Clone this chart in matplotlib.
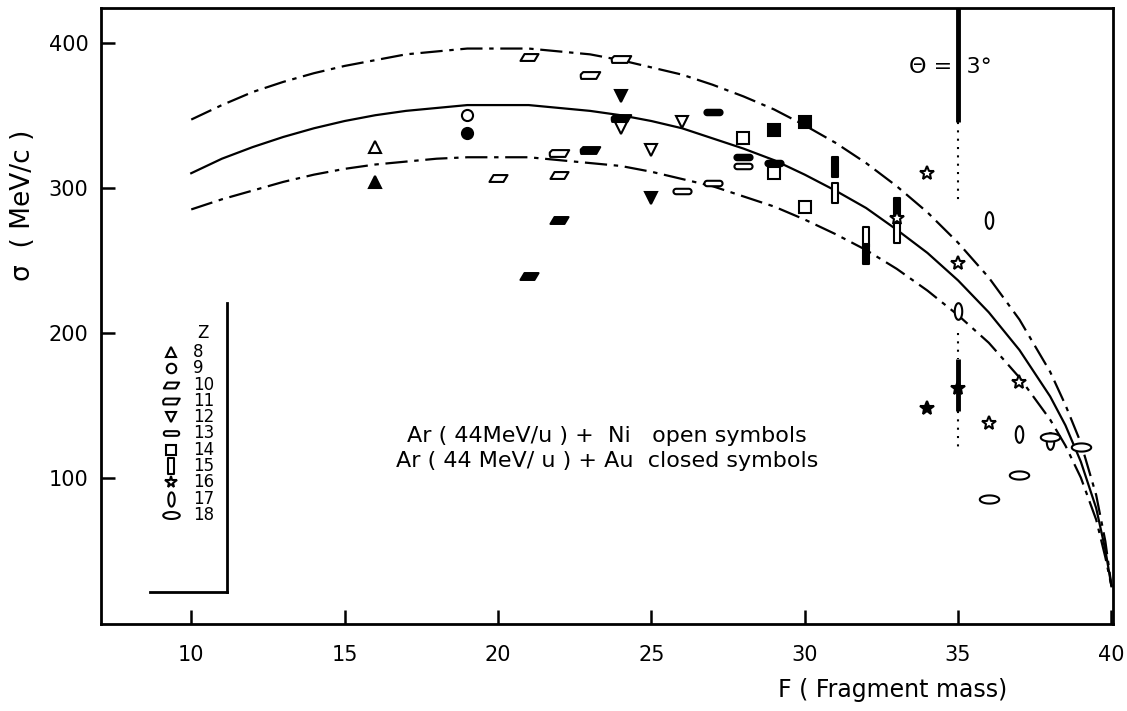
import numpy as np
import matplotlib.pyplot as plt
from matplotlib.path import Path

plt.rcParams['font.family'] = ['DejaVu Sans']

# Curves: mean and +/- band
curve_F = [10, 11, 12, 13, 14, 15, 16, 17, 18, 19, 20, 21, 22, 23, 24, 25, 26, 27,
           28, 29, 30, 31, 32, 33, 34, 35, 36, 37, 38, 38.5, 39, 39.5, 39.8, 40]
curve_mid = [310, 320, 328, 335, 341, 346, 350, 353, 355, 357, 357, 357, 355, 353, 350,
             346, 341, 334, 327, 319, 309, 298, 286, 271, 255, 236, 214, 188, 156, 136,
             111, 79, 50, 25]
curve_up = [347, 357, 366, 373, 379, 384, 388, 392, 394, 396, 396, 396, 394, 392, 388,
            383, 378, 371, 363, 354, 343, 331, 317, 301, 283, 262, 238, 209, 173, 150,
            124, 88, 56, 25]
curve_lo = [285, 292, 298, 304, 309, 313, 316, 318, 320, 321, 321, 321, 319, 317, 315,
            311, 306, 301, 294, 287, 278, 268, 257, 244, 229, 212, 193, 169, 140, 122,
            100, 71, 45, 25]

# Data points per Z: (F, sigma); open = Ar+Ni, closed = Ar+Au
ni_pts = {
    8: [(16, 328)],
    9: [(19, 350)],
    10: [(20, 307), (21, 390), (22, 309)],
    11: [(22, 324), (23, 378), (24, 389)],
    12: [(24, 341), (25, 326), (26, 345)],
    13: [(26, 298), (27, 303), (28, 315)],
    14: [(28, 334), (29, 310), (30, 287)],
    15: [(31, 296), (32, 266), (33, 269)],
    16: [(33, 279), (34, 310), (35, 248), (36, 138), (37, 166)],
    17: [(35, 215), (36, 278), (37, 130), (38, 125)],
    18: [(36, 85), (37, 102), (38, 128), (39, 121)],
}
au_pts = {
    8: [(16, 304)],
    9: [(19, 338)],
    10: [(21, 239), (22, 278)],
    11: [(23, 326), (24, 348)],
    12: [(24, 363), (25, 293)],
    13: [(27, 352), (28, 321), (29, 317)],
    14: [(29, 340), (30, 345)],
    15: [(31, 314), (32, 254), (33, 286)],
    16: [(34, 148), (35, 162)],
}

z_list = [8, 9, 10, 11, 12, 13, 14, 15, 16, 17, 18]

# scanner streak near F = 35
streak_F = 35.0
streak_heavy = [(424, 345), (182, 146)]
streak_light = [(345, 290), (200, 182), (146, 120)]


def ellipse(ax_x, ax_y, n=40):
    t = np.linspace(0, 2 * np.pi, n)
    return Path(np.column_stack([ax_x * np.cos(t), ax_y * np.sin(t)]), closed=True)


def capsule(w, h, n=12):
    t1 = np.linspace(np.pi / 2, 3 * np.pi / 2, n)
    t2 = np.linspace(-np.pi / 2, np.pi / 2, n)
    left = np.column_stack([-w + h * np.cos(t1), h * np.sin(t1)])
    right = np.column_stack([w + h * np.cos(t2), h * np.sin(t2)])
    v = np.vstack([left, right, left[:1]])
    return Path(v, closed=True)


parallelogram = Path([(-1, -0.38), (0.55, -0.38), (1, 0.38), (-0.55, 0.38), (-1, -0.38)],
                     closed=True)
para_round = Path([(-0.95, -0.35), (0.6, -0.35), (1, 0.35), (-0.75, 0.35), (-1, 0.1),
                   (-1, -0.15), (-0.95, -0.35)], closed=True)
tall_rect = Path([(-0.35, -1), (0.35, -1), (0.35, 1), (-0.35, 1), (-0.35, -1)], closed=True)

styles = {
    8: ('^', 9),
    9: ('o', 8),
    10: (parallelogram, 13),
    11: (para_round, 14),
    12: ('v', 9),
    13: (capsule(0.7, 0.3), 13),
    14: ('s', 8),
    15: (tall_rect, 14),
    16: ('*', 10),
    17: (ellipse(0.45, 1.0), 12),
    18: (ellipse(1.0, 0.42), 14),
}

fig = plt.figure(figsize=(11.27, 7.11), dpi=100)
ax = fig.add_axes([0.0894, 0.1224, 0.8982, 0.8664])

dash = (10, 3, 2, 3)
ax.plot(curve_F, curve_up, color='black', lw=1.6, dashes=dash)
ax.plot(curve_F, curve_lo, color='black', lw=1.6, dashes=dash)
ax.plot(curve_F, curve_mid, color='black', lw=1.6)

for z in z_list:
    m, ms = styles[z]
    if z in ni_pts:
        f, s = zip(*ni_pts[z])
        ax.plot(f, s, ls='none', marker=m, ms=ms, mfc='white', mec='black', mew=1.5)
    if z in au_pts:
        f, s = zip(*au_pts[z])
        ax.plot(f, s, ls='none', marker=m, ms=ms, mfc='black', mec='black', mew=1.5)

for a, b in streak_heavy:
    ax.plot([streak_F, streak_F], [a, b], color='black', lw=3.5, solid_capstyle='butt')
for a, b in streak_light:
    ax.plot([streak_F, streak_F], [a, b], color='black', lw=1.5, ls=(0, (1, 3)))

ax.set_xlim(7.05, 40.05)
ax.set_ylim(-1, 424)
ax.set_xticks([10, 15, 20, 25, 30, 35, 40])
ax.set_yticks([100, 200, 300, 400])
ax.tick_params(direction='in', length=10, width=1.8, labelsize=15)
ax.tick_params(axis='y', pad=9)
ax.tick_params(axis='x', pad=15)
for sp in ax.spines.values():
    sp.set_linewidth(2)

ax.set_ylabel('σ  ( MeV/c )', fontsize=19)
ax.yaxis.set_label_coords(-0.064, 0.68)
fig.text(0.792, 0.03, 'F ( Fragment mass)', fontsize=17, ha='center', va='center')

ax.text(33.4, 383, 'Θ =  3°', fontsize=16, va='center')
ax.text(0.5, 0.305, 'Ar ( 44MeV/u ) +  Ni   open symbols', transform=ax.transAxes,
        fontsize=16, ha='center', va='center')
ax.text(0.5, 0.264, 'Ar ( 44 MeV/ u ) + Au  closed symbols', transform=ax.transAxes,
        fontsize=16, ha='center', va='center')

# hand-drawn legend box
ax.plot([0.1248, 0.1248], [0.052, 0.521], transform=ax.transAxes, color='black', lw=2)
ax.plot([0.0487, 0.1248], [0.052, 0.052], transform=ax.transAxes, color='black', lw=2)
ax.text(0.095, 0.4724, 'Z', transform=ax.transAxes, fontsize=12, va='center')
for i, z in enumerate(z_list):
    yy = 0.4416 - i * 0.02646
    m, ms = styles[z]
    ax.plot([0.0694], [yy], transform=ax.transAxes, marker=m, ms=ms * 0.85, mfc='white',
            mec='black', mew=1.5, ls='none')
    ax.text(0.091, yy, str(z), transform=ax.transAxes, fontsize=12, va='center')

fig.savefig('out.png', dpi=100)
